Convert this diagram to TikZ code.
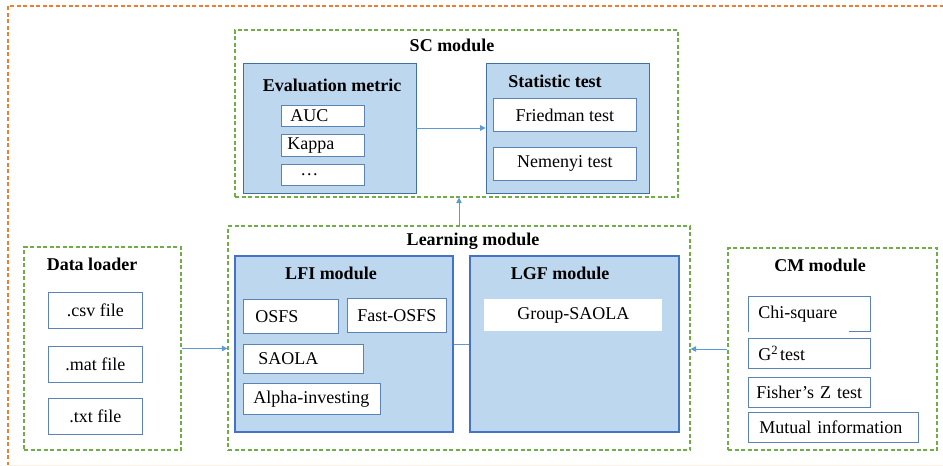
\documentclass[tikz,border=0pt]{standalone}
\usepackage{fontspec}
\setmainfont{Liberation Serif}
\usetikzlibrary{arrows.meta,positioning}

\definecolor{modfill}{HTML}{BDD7EE}
\definecolor{modline}{HTML}{41719C}
\definecolor{lfiline}{HTML}{4472C4}
\definecolor{itemline}{HTML}{5B83B5}
\definecolor{grpgreen}{HTML}{70AD47}
\definecolor{outerorange}{HTML}{ED7D31}
\definecolor{arrowblue}{HTML}{5B9BD5}

\begin{document}
\begin{tikzpicture}[x=1pt,y=-1pt,
  every node/.style={font=\fontsize{18}{21}\selectfont},
  group/.style={draw=grpgreen, dash pattern=on 4pt off 2.5pt, line width=1.2pt, inner sep=0pt},
  module/.style={draw=modline, fill=modfill, line width=0.8pt, inner sep=0pt},
  title/.style={font=\fontsize{18}{21}\selectfont\bfseries},
  item/.style={draw=itemline, fill=white, line width=0.8pt, inner ysep=0pt, anchor=north west},
  arr/.style={draw=arrowblue, line width=0.9pt, -{Triangle[length=5.5pt,width=5.5pt]}}
]
  \useasboundingbox (0,0) rectangle (943,466);
  % outer frame
  \draw[outerorange, dash pattern=on 4pt off 2.5pt, line width=1.2pt] (950,6) -| (8,465);
  \draw[outerorange!12, line width=1pt] (8,465) -- (943,465);

  % SC module
  \node[group, minimum width=443pt, minimum height=167pt] (sc) at (456.5,113.5) {};
  \node[title] (sctitle) at (452,45) {SC module};
  \node[module, minimum width=173pt, minimum height=130pt] (eval) at (329.5,128) {};
  \node[title] (evaltitle) at (332,85) {Evaluation metric};
  \node[item, inner xsep=9pt, text width=65pt, minimum height=21pt, align=left] (auc) at (281,105) {AUC};
  \node[item, inner xsep=6pt, text width=71pt, minimum height=22pt, align=left] (kappa) at (281,134) {Kappa};
  \node[item, inner xsep=19pt, text width=45pt, minimum height=21pt, align=left] (dots) at (281,164) {\ldots};
  \node[module, minimum width=163pt, minimum height=130pt] (stat) at (567.5,128) {};
  \node[title] (stattitle) at (555,81) {Statistic test};
  \node[item, inner xsep=0pt, minimum width=143pt, minimum height=33pt] (fried) at (493,98) {Friedman test};
  \node[item, inner xsep=0pt, minimum width=143pt, minimum height=33pt] (nem) at (493,147) {Nemenyi test};
  \draw[arr] (eval.east) -- (stat.west);

  % Learning module
  \node[group, minimum width=462pt, minimum height=224pt] (learn) at (459,338) {};
  \node[title] (learntitle) at (473,241) {Learning module};
  \node[module, draw=lfiline, line width=1.2pt, minimum width=218pt, minimum height=176pt] (lfi) at (344,344) {};
  \node[title] (lfititle) at (331,273) {LFI module};
  \node[module, draw=lfiline, line width=1.2pt, minimum width=209pt, minimum height=176pt] (lgf) at (574.5,344) {};
  \node[title] (lgftitle) at (560,273) {LGF module};
  \node[item, inner xsep=12pt, text width=71pt, minimum height=34pt, align=left] (osfs) at (243,299) {OSFS};
  \node[item, inner xsep=0pt, minimum width=99pt, minimum height=34pt] (fast) at (347,298) {Fast-OSFS};
  \node[item, inner xsep=15pt, text width=90pt, minimum height=29pt, align=left] (saola) at (243,344) {SAOLA};
  \node[item, inner xsep=10pt, text width=117pt, minimum height=31pt, align=left] (alpha) at (243,383) {Alpha-investing};
  \node[item, draw=none, inner xsep=0pt, minimum width=178pt, minimum height=32pt] (gsaola) at (484,299) {Group-SAOLA};
  \draw[arrowblue, line width=0.9pt] (lfi.east) -- (lgf.west);
  \draw[arr] (learn.north) -- (learn.north |- sc.south);

  % Data loader
  \node[group, minimum width=157pt, minimum height=203pt] (data) at (102.5,348.5) {};
  \node[title] (datatitle) at (92,264) {Data loader};
  \node[item, inner xsep=0pt, minimum width=94pt, minimum height=36pt] (csv) at (48,292) {.csv file};
  \node[item, inner xsep=0pt, minimum width=94pt, minimum height=36pt] (mat) at (48,346) {.mat file};
  \node[item, inner xsep=0pt, minimum width=94pt, minimum height=36pt] (txt) at (48,398) {.txt file};
  \draw[arr] (data.east) -- (data.east -| learn.west);

  % CM module
  \node[group, minimum width=209pt, minimum height=202pt] (cm) at (832.5,349) {};
  \node[title] (cmtitle) at (820,265) {CM module};
  \node[item, draw=none, inner xsep=10pt, text width=102pt, minimum height=35pt, align=left] (chi) at (748,296) {Chi-square};
  \draw[itemline, line width=0.8pt] ([xshift=-22pt]chi.south east) -- (chi.south east) -- (chi.north east) -- (chi.north west) -- (chi.south west);
  \node[item, inner xsep=10pt, text width=102pt, minimum height=30pt, align=left] (gsq) at (748,338) {G\textsuperscript{2}\hspace{2pt}test};
  \node[item, inner xsep=8pt, text width=106pt, minimum height=30pt, align=left] (fisher) at (748,377) {Fisher’s Z test};
  \node[item, inner xsep=11pt, text width=148pt, minimum height=30pt, align=left] (mutual) at (748,412) {Mutual information};
  \draw[arr] (cm.west) -- (cm.west -| learn.east);
\end{tikzpicture}
\end{document}
